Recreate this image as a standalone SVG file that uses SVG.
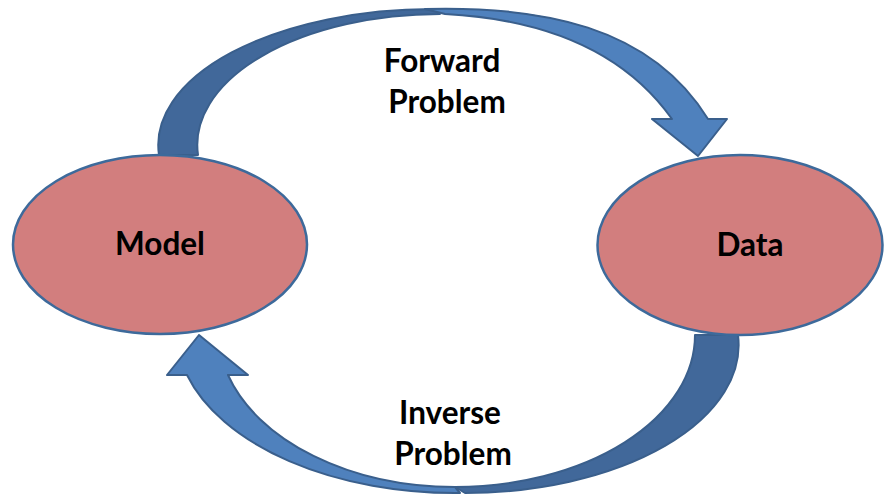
<svg xmlns="http://www.w3.org/2000/svg" width="884" height="495" viewBox="0 0 884 495">
<style>
.dark{fill:#41689A;stroke:#3A5F8C;stroke-width:2;stroke-linejoin:round}
.light{fill:#4F81BD;stroke:#3A5F8C;stroke-width:2;stroke-linejoin:round}
.node{fill:#D27E7E;stroke:#3D6A9B;stroke-width:2.5}
.lbl{font-family:Lato,"Liberation Sans",sans-serif;font-weight:bold;font-size:31.5px;fill:#000;text-anchor:middle}
</style>
<rect width="884" height="495" fill="#fff"/>
<g id="connectors">
<g id="forward">
<path class="dark" d="M159,155 A275,136 0 0 1 433,9 L440,14 A243,131 0 0 0 198,155 Z"/>
<path class="light" d="M425,9 C540,6 650,25 708,119 L727,119 L698,156 L652,119 L672,119 C630,60 560,20 445,14 Z"/>
</g>
<g id="inverse">
<path class="dark" d="M738,335 A274,148 0 0 1 465,493 L455,487 A240.5,152 0 0 0 695,335 Z"/>
<path class="light" d="M187,375 A279,163 0 0 0 460,493 L455,487 A237,157 0 0 1 228,375 L248,375 L199,335 L167,375 Z"/>
</g>
</g>
<g id="model">
<ellipse class="node" cx="160" cy="244.5" rx="147" ry="89.5"/>
<text class="lbl" x="160" y="255">Model</text>
</g>
<g id="data">
<ellipse class="node" cx="740" cy="245" rx="142.5" ry="90"/>
<text class="lbl" x="750" y="256">Data</text>
</g>
<g id="labels">
<text class="lbl" x="442" y="72">Forward</text>
<text class="lbl" x="447" y="113">Problem</text>
<text class="lbl" x="450" y="424">Inverse</text>
<text class="lbl" x="453" y="465">Problem</text>
</g>
</svg>
